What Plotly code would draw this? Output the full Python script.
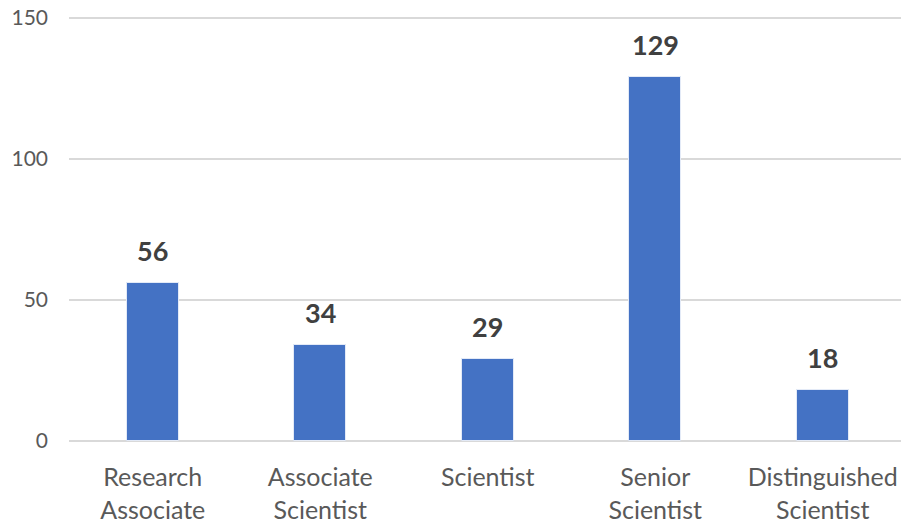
import plotly.graph_objects as go

# Headcount by career level
levels = ["Research<br>Associate", "Associate<br>Scientist", "Scientist",
          "Senior<br>Scientist", "Distinguished<br>Scientist"]
counts = [56, 34, 29, 129, 18]
y_ticks = [0, 50, 100, 150]

BAR_BLUE = "#4472C4"
GRID = "#d9d9d9"
FONT = "Lato"

fig = go.Figure(
    go.Bar(
        x=levels,
        y=counts,
        width=0.31,
        marker=dict(color=BAR_BLUE, line=dict(color="#e3eaf7", width=1)),
        hoverinfo="skip",
    )
)

# Bold value labels above each bar
for lvl, n in zip(levels, counts):
    fig.add_annotation(
        x=lvl, y=n, text=f"<b>{n}</b>", showarrow=False,
        yanchor="bottom", yshift=14,
        font=dict(family=FONT, size=27, color="#404040"),
    )

fig.update_layout(
    width=901, height=525,
    margin=dict(l=69, r=0, t=17, b=84),
    paper_bgcolor="white", plot_bgcolor="white",
    showlegend=False,
    font=dict(family=FONT, color="#595959"),
    bargap=0,
)
fig.update_xaxes(
    type="category",
    range=[-0.5, 4.467],
    showgrid=False, showline=False, zeroline=False,
    tickfont=dict(family=FONT, size=25, color="#595959"),
    ticklabelstandoff=19,
)
fig.update_yaxes(
    range=[0, 150.4],
    tickvals=y_ticks,
    showgrid=True, gridcolor=GRID, gridwidth=1.5,
    zeroline=True, zerolinecolor=GRID, zerolinewidth=1.5,
    showline=False,
    tickfont=dict(family=FONT, size=21, color="#595959"),
    ticklabelstandoff=20,
)

fig.write_html("out.html")
